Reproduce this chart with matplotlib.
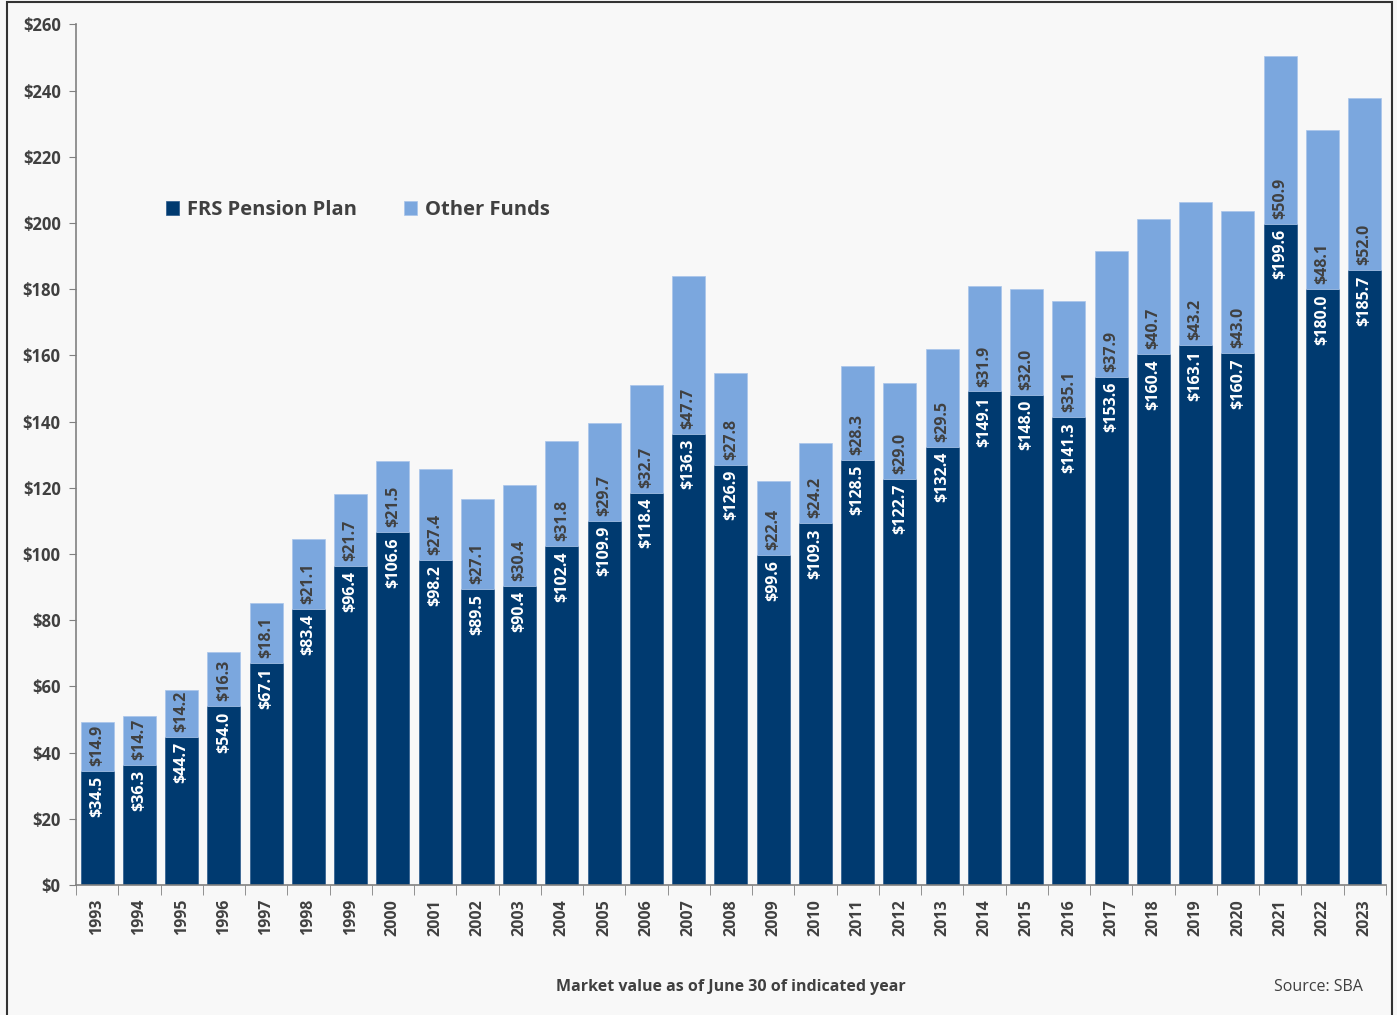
import matplotlib.pyplot as plt
from matplotlib.patches import Rectangle

years = list(range(1993, 2024))
frs = [34.5, 36.3, 44.7, 54.0, 67.1, 83.4, 96.4, 106.6, 98.2, 89.5, 90.4, 102.4,
       109.9, 118.4, 136.3, 126.9, 99.6, 109.3, 128.5, 122.7, 132.4, 149.1, 148.0,
       141.3, 153.6, 160.4, 163.1, 160.7, 199.6, 180.0, 185.7]
other = [14.9, 14.7, 14.2, 16.3, 18.1, 21.1, 21.7, 21.5, 27.4, 27.1, 30.4, 31.8,
         29.7, 32.7, 47.7, 27.8, 22.4, 24.2, 28.3, 29.0, 29.5, 31.9, 32.0, 35.1,
         37.9, 40.7, 43.2, 43.0, 50.9, 48.1, 52.0]

dark = '#003a70'
light = '#7ba7de'
grey = '#404040'
bg = '#f8f8f8'

plt.rcParams['font.family'] = ['Open Sans', 'DejaVu Sans']

fig = plt.figure(figsize=(13.97, 10.15), dpi=100, facecolor=bg)
ax = fig.add_axes([0.0544, 0.128, 0.9376, 0.848], facecolor=bg)

x = list(range(len(years)))
ax.bar(x, frs, width=0.78, color=dark, edgecolor='#2a5a8c', linewidth=0.5, label='FRS Pension Plan')
ax.bar(x, other, width=0.78, bottom=frs, color=light, edgecolor='#a8c4ea', linewidth=0.5, label='Other Funds')

# value labels: pension at the top of its segment, other funds just above it
for i in x:
    ax.text(i, frs[i] - 1.5, f'${frs[i]:.1f}', rotation=90, ha='center', va='top',
            color='white', fontsize=11.5, fontweight='bold')
    ax.text(i, frs[i] + 1.5, f'${other[i]:.1f}', rotation=90, ha='center', va='bottom',
            color=grey, fontsize=11.5, fontweight='bold')

ax.set_xlim(-0.5, len(years) - 0.5)
ax.set_ylim(0, 260)
ax.set_yticks(range(0, 261, 20))
ax.set_yticklabels([f'${v}' for v in range(0, 261, 20)], fontsize=12, fontweight='bold', color=grey)
ax.set_xticks(x)
ax.set_xticklabels([str(y) for y in years], rotation=90, fontsize=11.5, fontweight='bold', color=grey)
ax.tick_params(axis='x', length=0, pad=10)
ax.tick_params(axis='y', length=5, color='#808080', pad=6)
ax.set_xticks([i - 0.5 for i in range(len(years) + 1)], minor=True)
ax.tick_params(axis='x', which='minor', length=7, color='#808080')

for side in ['top', 'right']:
    ax.spines[side].set_visible(False)
for side in ['left', 'bottom']:
    ax.spines[side].set_color('#808080')
    ax.spines[side].set_linewidth(1.2)

leg = ax.legend(loc='upper left', bbox_to_anchor=(0.055, 0.817), ncol=2, frameon=False,
                prop={'size': 14.5, 'weight': 'bold'}, handlelength=0.65, handleheight=0.65,
                handletextpad=0.4, columnspacing=2.3)
for t in leg.get_texts():
    t.set_color(grey)

fig.text(0.523, 0.028, 'Market value as of June 30 of indicated year', ha='center', va='center',
         fontsize=11.5, fontweight='bold', color=grey)
fig.text(0.944, 0.028, 'Source: SBA', ha='center', va='center', fontsize=11.5, color=grey)

fig.patches.append(Rectangle((0.005, -0.01), 0.9915, 1.008, transform=fig.transFigure,
                             fill=False, edgecolor='#333333', linewidth=1.5))

fig.savefig('out.png', dpi=100, facecolor=bg)
